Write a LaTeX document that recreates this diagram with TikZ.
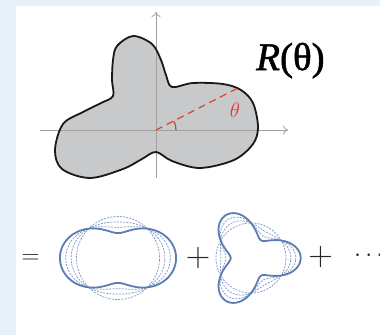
\RequirePackage{fix-cm}
\documentclass[tikz,border=0pt]{standalone}
\usepackage{fontspec}
\newfontfamily\timesfont[FakeBold=1.3]{Liberation Serif}
\usetikzlibrary{arrows.meta,calc}
\definecolor{bgblue}{RGB}{232,240,248}
\definecolor{shapegray}{RGB}{200,201,202}
\definecolor{axisgray}{RGB}{160,160,160}
\definecolor{redline}{RGB}{222,60,50}
\definecolor{modeblue}{RGB}{92,124,180}
\tikzset{
  axisline/.style={draw=axisgray, line width=0.8pt, -{To[length=5pt,width=9pt]}},
  outline/.style={draw=black!90, line width=1.8pt, line join=round},
  modesolid/.style={draw=modeblue, line width=1.8pt},
  modedash/.style={draw=modeblue!80, line width=0.7pt, dash pattern=on 2pt off 1.2pt},
  opsign/.style={inner sep=0pt, text=black!85},
}
\begin{document}
\begin{tikzpicture}[x=1pt,y=-1pt]
\useasboundingbox (0,0) rectangle (380,335);
\fill[bgblue] (0,0) rectangle (380,335);
\fill[white] (16,6) rectangle (380,335);
% main shape
\def\shapepath{plot[smooth cycle, tension=0.55] coordinates {
 (133,36) (152,44) (161,60) (166,75) (172,87) (193,83) (223,84) (241,90)
 (253,103) (258,127) (253,144) (234,160) (200,168) (172,161) (156,152)
 (142,159) (123,169) (90,178) (62,169) (55,150) (63,124) (83,112)
 (101,103) (113,96) (112,80) (113,60) (117,46)}}
\fill[shapegray] \shapepath;
\coordinate (o) at (156,130);
\coordinate (xs) at (40,130);
\coordinate (xe) at (288,130);
\coordinate (ys) at (156,178);
\coordinate (ye) at (156,12);
\draw[axisline] (xs) -- (xe);
\draw[axisline] (ys) -- (ye);
\draw[outline] \shapepath;
% angle
\coordinate (rp) at (238,88);
\draw[redline, line width=1.2pt, dash pattern=on 7pt off 5pt] (o) -- (rp);
\draw[redline, line width=1.2pt] ($(o)+(20,0)$) arc[start angle=0, end angle=-27, radius=20];
\node[text=redline, font=\fontsize{21}{21}\selectfont] (th) at (235,110) {$\theta$};
\node[anchor=base west, inner sep=0pt, font=\timesfont\fontsize{39}{39}\selectfont] (R) at (256,70) {\textit{R}(θ)};
% bottom row
\node[opsign, font=\fontsize{25}{25}\selectfont] (eq) at (30.5,259.5) {$=$};
% two-fold mode
\foreach \a in {0,0.13,0.26}{
  \draw[modedash] plot[domain=0:360, samples=121, smooth cycle] ({118+41.5*(1+\a*cos(2*\x))*cos(\x)}, {258+41.5*(1+\a*cos(2*\x))*sin(\x)});
}
\draw[modesolid] plot[domain=0:360, samples=121, smooth cycle] ({118+41.5*(1+0.4*cos(2*\x))*cos(\x)}, {258+41.5*(1+0.4*cos(2*\x))*sin(\x)});
\node[opsign, font=\fontsize{34}{34}\selectfont] (p1) at (198,258) {$+$};
% three-fold mode
\foreach \a in {0,0.14,0.28}{
  \draw[modedash] plot[domain=0:360, samples=121, smooth cycle] ({251+35*(1+\a*cos(3*\x))*cos(\x)}, {258+35*(1+\a*cos(3*\x))*sin(\x)});
}
\draw[modesolid] plot[domain=0:360, samples=121, smooth cycle] ({251+35*(1+0.42*cos(3*\x))*cos(\x)}, {258+35*(1+0.42*cos(3*\x))*sin(\x)});
\node[opsign, font=\fontsize{34}{34}\selectfont] (p2) at (320.5,257) {$+$};
\node[opsign, anchor=west, font=\fontsize{25}{25}\selectfont] (dots) at (354,256) {$\cdots$};
\end{tikzpicture}
\end{document}
